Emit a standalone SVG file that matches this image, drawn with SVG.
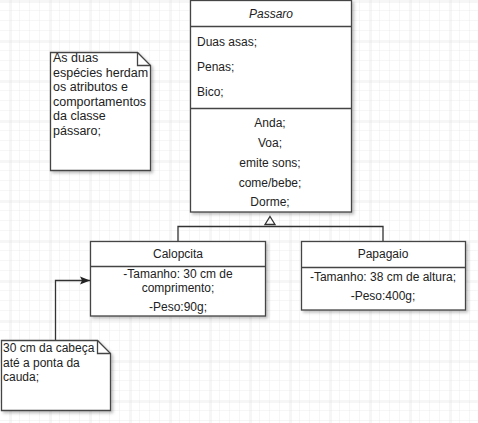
<svg xmlns="http://www.w3.org/2000/svg" width="478" height="423" viewBox="0 0 478 423">
<defs>
<pattern id="minor" x="0" y="1" width="10" height="10" patternUnits="userSpaceOnUse">
<path d="M10 0V10M0 10H10" fill="none" stroke="#ededed" stroke-width="1"/>
</pattern>
<pattern id="major" x="10.5" y="1.5" width="40" height="40" patternUnits="userSpaceOnUse">
<path d="M0 0V40M0 0H40" fill="none" stroke="#dadada" stroke-width="1"/>
</pattern>
<filter id="sh" x="-10%" y="-10%" width="130%" height="130%">
<feDropShadow dx="2" dy="2" stdDeviation="1.5" flood-color="#000" flood-opacity="0.25"/>
</filter>
<marker id="arr" viewBox="0 0 10 10" refX="10" refY="5" markerWidth="10" markerHeight="10" markerUnits="userSpaceOnUse" orient="auto">
<path d="M0 1L10 5L0 9L2 5Z" fill="#222"/>
</marker>
<style>
text{font-family:"Liberation Sans",Arial,sans-serif;font-size:12px;fill:#222}
.c{text-anchor:middle}
.n{font-size:12.5px}
.box{fill:#fff;stroke:#444;stroke-width:1.3}
.ln{fill:none;stroke:#444;stroke-width:1.3}
.ed{fill:none;stroke:#333;stroke-width:1.3}
</style>
</defs>
<rect width="478" height="423" fill="#fff"/>
<rect width="478" height="423" fill="url(#minor)"/>
<rect width="478" height="423" fill="url(#major)"/>

<g id="connectors">
<path class="ed" d="M178 241V226.5H383V241"/>
<path class="ed" d="M270 216.5L275 224.5H265Z" fill="#fff"/>
<path class="ed" d="M55.5 340V280.5H90" marker-end="url(#arr)"/>
</g>

<g id="passaro">
<rect class="box" x="190.5" y="0.5" width="161" height="211.5" filter="url(#sh)"/>
<line class="ln" x1="190.5" y1="26.5" x2="351.5" y2="26.5"/>
<line class="ln" x1="190.5" y1="108.5" x2="351.5" y2="108.5"/>
<text class="c" x="271" y="18" font-style="italic">Passaro</text>
<text x="197" y="46">Duas asas;</text>
<text x="197" y="71">Penas;</text>
<text x="197" y="96">Bico;</text>
<text class="c" x="270" y="127">Anda;</text>
<text class="c" x="270" y="147">Voa;</text>
<text class="c" x="270" y="167">emite sons;</text>
<text class="c" x="270" y="187">come/bebe;</text>
<text class="c" x="270" y="206">Dorme;</text>
</g>

<g id="calopcita">
<rect class="box" x="90.5" y="241.5" width="175" height="74.5" filter="url(#sh)"/>
<line class="ln" x1="90.5" y1="266.5" x2="265.5" y2="266.5"/>
<text class="c" x="178" y="258">Calopcita</text>
<text class="c" x="178" y="278">-Tamanho: 30 cm de</text>
<text class="c" x="178" y="292">comprimento;</text>
<text class="c" x="178" y="311">-Peso:90g;</text>
</g>

<g id="papagaio">
<rect class="box" x="301.5" y="241.5" width="164" height="68.5" filter="url(#sh)"/>
<line class="ln" x1="301.5" y1="267.5" x2="465.5" y2="267.5"/>
<text class="c" x="383" y="258">Papagaio</text>
<text class="c" x="383" y="281">-Tamanho: 38 cm de altura;</text>
<text class="c" x="383" y="300">-Peso:400g;</text>
</g>

<g id="note1">
<path class="box" d="M50.5 52.5H137.5L150.5 65.5V170.5H50.5Z" filter="url(#sh)"/>
<path class="ln" d="M137.5 52.5V65.5H150.5"/>
<text class="n" x="53" y="62">As duas</text>
<text class="n" x="53" y="76.5">espécies herdam</text>
<text class="n" x="53" y="91">os atributos e</text>
<text class="n" x="53" y="105.5">comportamentos</text>
<text class="n" x="53" y="120">da classe</text>
<text class="n" x="53" y="134.5">pássaro;</text>
</g>

<g id="note2">
<path class="box" d="M1.5 340.5H97.5L110.5 353.5V410.5H1.5Z" filter="url(#sh)"/>
<path class="ln" d="M97.5 340.5V353.5H110.5"/>
<text x="3" y="352">30 cm da cabeça</text>
<text x="3" y="367">até a ponta da</text>
<text x="3" y="381">cauda;</text>
</g>
</svg>
